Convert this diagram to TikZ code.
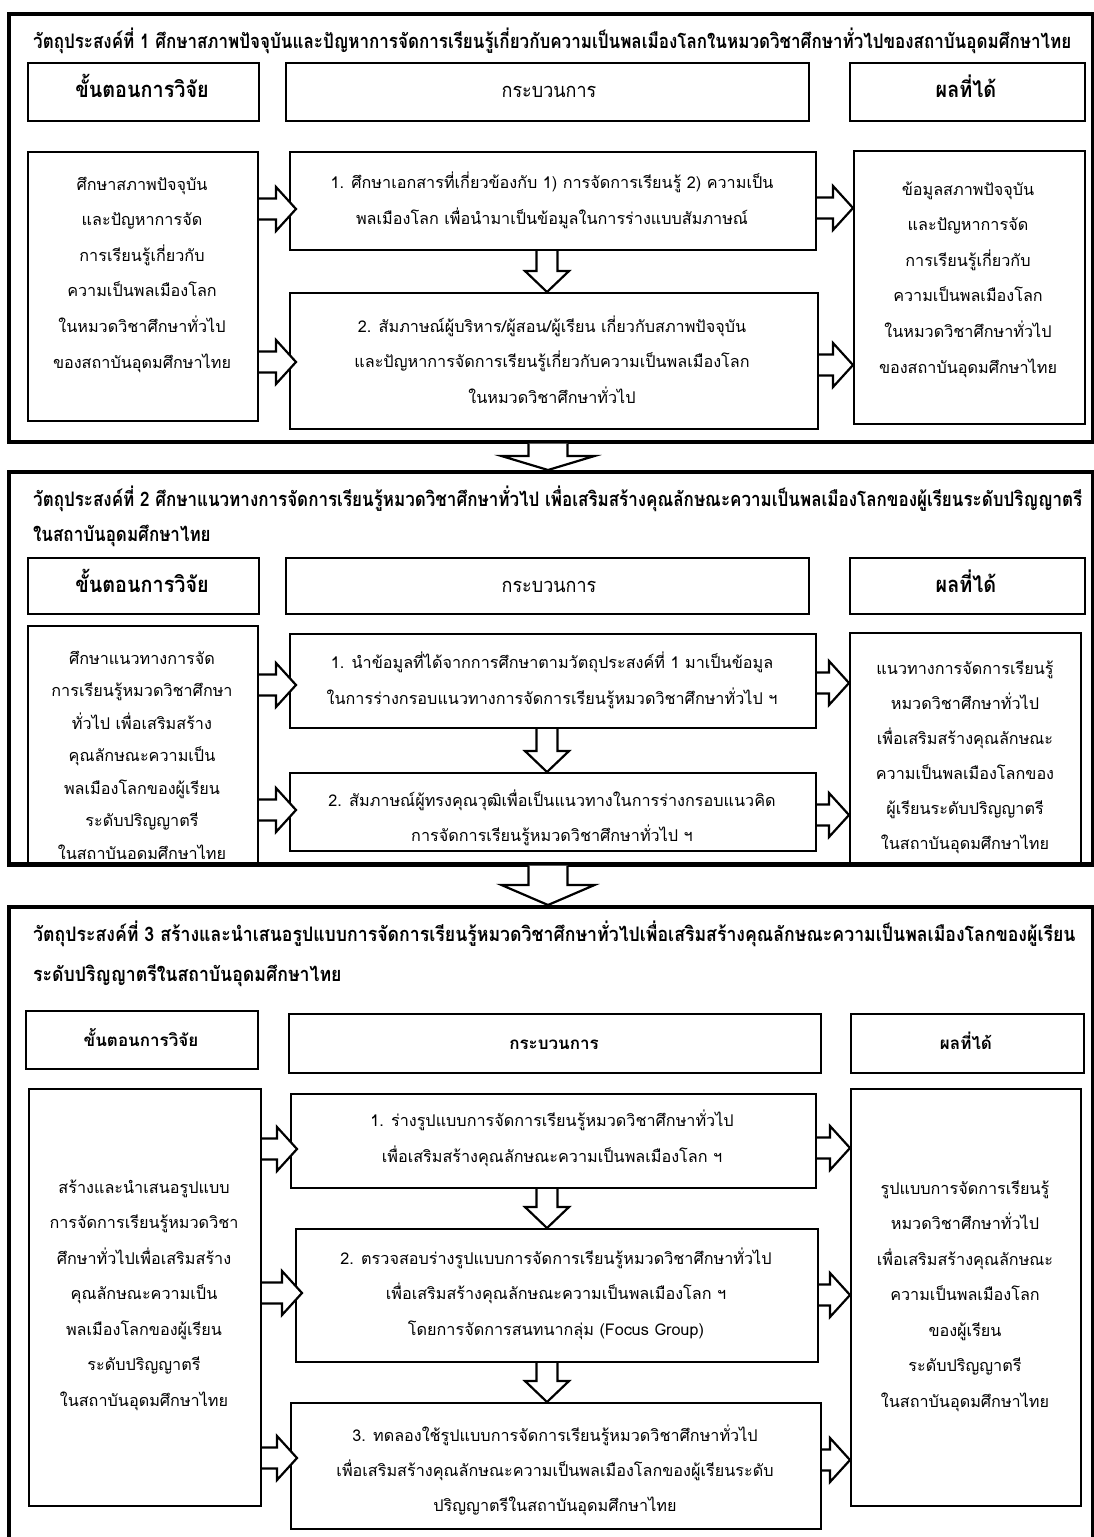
\documentclass[tikz,border=0pt]{standalone}
\usepackage{fontspec}
\newfontfamily\thai[Script=Thai]{Loma}
\newfontfamily\thaic[Script=Thai,FakeStretch=0.85]{Loma}
\newfontfamily\thaicw[Script=Thai,FakeStretch=0.885]{Loma}
\newfontfamily\thaih[Script=Thai,FakeStretch=0.9]{Loma}
\usetikzlibrary{calc}
\tikzset{
  box/.style={draw, line width=2.2pt, fill=white, inner sep=0pt},
  frame/.style={draw, line width=3.5pt, inner sep=0pt},
  body/.style={font=\thai\fontsize{16.2}{18}\selectfont, inner sep=0pt, anchor=base},
  ttl/.style={font=\thaic\bfseries\fontsize{20}{22}\selectfont, inner sep=0pt, anchor=base west},
  ttlw/.style={font=\thaicw\bfseries\fontsize{20}{22}\selectfont, inner sep=0pt, anchor=base west},
  hdb/.style={font=\thaih\bfseries\fontsize{22}{24}\selectfont, inner sep=0pt, anchor=base},
  hdn/.style={font=\thaih\fontsize{20}{22}\selectfont, inner sep=0pt, anchor=base},
  hd3/.style={font=\thai\bfseries\fontsize{17}{20}\selectfont, inner sep=0pt, anchor=base},
  blk/.style={draw, line width=2.2pt, fill=white, line join=miter}
}
% rectangle node: name, x1, y1, x2, y2
\newcommand\bx[6][box]{\node[#1, minimum width={#5-#3}, minimum height={#6-#4}, anchor=north west] (#2) at (#3,#4) {};}
% lines of text: name, x, first baseline, step, list
\newcommand\tl[5]{\foreach \t [count=\i] in {#5}{\node[body] (#1-\i) at (#2,{#3+(\i-1)*#4}) {\t};}}
% horizontal block arrow: from, to, y, tip overlap
\newcommand\harr[4]{\draw[blk] let \p1=(#1.east), \p2=(#2.west), \p3=(0,#3) in
  (\x1,{\y3+10.5pt}) -- ({\x2+#4pt-20pt},{\y3+10.5pt}) -- ({\x2+#4pt-20pt},{\y3+22pt}) -- ({\x2+#4pt},\y3)
  -- ({\x2+#4pt-20pt},{\y3-22pt}) -- ({\x2+#4pt-20pt},{\y3-10.5pt}) -- (\x1,{\y3-10.5pt});}
% vertical block arrow: from, to, x, shaft half, head half, head length
\newcommand\varr[6]{\draw[blk] let \p1=(#1.south), \p2=(#2.north), \p3=(#3,0) in
  ({\x3-#4pt},\y1) -- ({\x3-#4pt},{\y2+#6pt}) -- ({\x3-#5pt},{\y2+#6pt}) -- (\x3,\y2)
  -- ({\x3+#5pt},{\y2+#6pt}) -- ({\x3+#4pt},{\y2+#6pt}) -- ({\x3+#4pt},\y1);}
\begin{document}
\begin{tikzpicture}[x=1pt,y=-1pt]
\path[use as bounding box, clip] (0,0) rectangle (1094,1537);
\fill[white] (0,0) rectangle (1094,1537);

%%%%%%%%%%%% Section 1
\bx[frame]{f1}{7}{12}{1091}{440}
\node[ttl] (t1) at (33,48) {วัตถุประสงค์ที่ 1 ศึกษาสภาพปัจจุบันและปัญหาการจัดการเรียนรู้เกี่ยวกับความเป็นพลเมืองโลกในหมวดวิชาศึกษาทั่วไปของสถาบันอุดมศึกษาไทย};
\bx{h1L}{27}{62}{258}{120}
\bx{h1M}{285}{62}{808}{120}
\bx{h1R}{849}{62}{1084}{120}
\node[hdb] (h1Lt) at (142,97) {ขั้นตอนการวิจัย};
\node[hdn] (h1Mt) at (549,97) {กระบวนการ};
\node[hdb] (h1Rt) at (966,97) {ผลที่ได้};
\bx{c1L}{27}{151}{257}{420}
\bx{p1a}{289}{151}{815}{249}
\bx{p1b}{289}{292}{817}{428}
\bx{c1R}{853}{150}{1084}{423}
\tl{c1Lt}{142}{190}{35.6}{ศึกษาสภาพปัจจุบัน,และปัญหาการจัด,การเรียนรู้เกี่ยวกับ,ความเป็นพลเมืองโลก,ในหมวดวิชาศึกษาทั่วไป,ของสถาบันอุดมศึกษาไทย}
\tl{p1at}{552}{188}{36}{1. ศึกษาเอกสารที่เกี่ยวข้องกับ 1) การจัดการเรียนรู้ 2) ความเป็น,พลเมืองโลก เพื่อนำมาเป็นข้อมูลในการร่างแบบสัมภาษณ์}
\tl{p1bt}{552}{332}{35.5}{2. สัมภาษณ์ผู้บริหาร/ผู้สอน/ผู้เรียน เกี่ยวกับสภาพปัจจุบัน,และปัญหาการจัดการเรียนรู้เกี่ยวกับความเป็นพลเมืองโลก,ในหมวดวิชาศึกษาทั่วไป}
\tl{c1Rt}{968}{195}{35.6}{ข้อมูลสภาพปัจจุบัน,และปัญหาการจัด,การเรียนรู้เกี่ยวกับ,ความเป็นพลเมืองโลก,ในหมวดวิชาศึกษาทั่วไป,ของสถาบันอุดมศึกษาไทย}
\harr{c1L}{p1a}{209}{7}
\harr{c1L}{p1b}{362}{7}
\harr{p1a}{c1R}{208}{0}
\harr{p1b}{c1R}{365}{0}
\varr{p1a}{p1b}{547}{10.5}{22}{21}

%%%%%%%%%%%% Section 2
\bx[frame]{f2}{7}{470}{1091}{862}
\node[ttl] (t2a) at (33,506) {วัตถุประสงค์ที่ 2 ศึกษาแนวทางการจัดการเรียนรู้หมวดวิชาศึกษาทั่วไป เพื่อเสริมสร้างคุณลักษณะความเป็นพลเมืองโลกของผู้เรียนระดับปริญญาตรี};
\node[ttl] (t2b) at (33,541) {ในสถาบันอุดมศึกษาไทย};
\bx{h2L}{27}{557}{258}{613}
\bx{h2M}{285}{557}{808}{613}
\bx{h2R}{849}{557}{1084}{613}
\node[hdb] (h2Lt) at (142,592) {ขั้นตอนการวิจัย};
\node[hdn] (h2Mt) at (549,592) {กระบวนการ};
\node[hdb] (h2Rt) at (966,592) {ผลที่ได้};
\bx{c2L}{27}{625}{257}{862}
\bx{p2a}{289}{633}{815}{727}
\bx{p2b}{289}{772}{815}{850}
\bx{c2R}{849}{632}{1080}{862}
\tl{c2Lt}{142}{664}{32.5}{ศึกษาแนวทางการจัด,การเรียนรู้หมวดวิชาศึกษา,ทั่วไป เพื่อเสริมสร้าง,คุณลักษณะความเป็น,พลเมืองโลกของผู้เรียน,ระดับปริญญาตรี,ในสถาบันอดมศึกษาไทย}
\tl{p2at}{552}{668}{36}{1. นำข้อมูลที่ได้จากการศึกษาตามวัตถุประสงค์ที่ 1 มาเป็นข้อมูล,ในการร่างกรอบแนวทางการจัดการเรียนรู้หมวดวิชาศึกษาทั่วไป ฯ}
\tl{p2bt}{552}{806}{35}{2. สัมภาษณ์ผู้ทรงคุณวุฒิเพื่อเป็นแนวทางในการร่างกรอบแนวคิด,การจัดการเรียนรู้หมวดวิชาศึกษาทั่วไป ฯ}
\tl{c2Rt}{965}{674}{35}{แนวทางการจัดการเรียนรู้,หมวดวิชาศึกษาทั่วไป,เพื่อเสริมสร้างคุณลักษณะ,ความเป็นพลเมืองโลกของ,ผู้เรียนระดับปริญญาตรี,ในสถาบันอุดมศึกษาไทย}
\harr{c2L}{p2a}{685}{7}
\harr{c2L}{p2b}{810}{7}
\harr{p2a}{c2R}{683}{0}
\harr{p2b}{c2R}{815}{0}
\varr{p2a}{p2b}{547}{10.5}{22}{21}
\draw[frame] (f2.south west) -- (f2.south east);

%%%%%%%%%%%% Section 3
\bx[frame]{f3}{7}{905}{1091}{1600}
\node[ttlw] (t3a) at (33,941) {วัตถุประสงค์ที่ 3 สร้างและนำเสนอรูปแบบการจัดการเรียนรู้หมวดวิชาศึกษาทั่วไปเพื่อเสริมสร้างคุณลักษณะความเป็นพลเมืองโลกของผู้เรียน};
\node[ttlw] (t3b) at (33,981) {ระดับปริญญาตรีในสถาบันอุดมศึกษาไทย};
\bx{h3L}{25}{1010}{257}{1068}
\bx{h3M}{288}{1013}{820}{1072}
\bx{h3R}{850}{1013}{1083}{1072}
\node[hd3] (h3Lt) at (141,1046) {ขั้นตอนการวิจัย};
\node[hd3] (h3Mt) at (554,1049) {กระบวนการ};
\node[hd3] (h3Rt) at (966,1049) {ผลที่ได้};
\bx{c3L}{28}{1088}{260}{1505}
\bx{p3a}{290}{1093}{815}{1187}
\bx{p3b}{295}{1228}{817}{1361}
\bx{p3c}{290}{1402}{820}{1528}
\bx{c3R}{850}{1088}{1080}{1505}
\tl{c3Lt}{144}{1193}{35.5}{สร้างและนำเสนอรูปแบบ,การจัดการเรียนรู้หมวดวิชา,ศึกษาทั่วไปเพื่อเสริมสร้าง,คุณลักษณะความเป็น,พลเมืองโลกของผู้เรียน,ระดับปริญญาตรี,ในสถาบันอุดมศึกษาไทย}
\tl{p3at}{552}{1126}{36}{1. ร่างรูปแบบการจัดการเรียนรู้หมวดวิชาศึกษาทั่วไป,เพื่อเสริมสร้างคุณลักษณะความเป็นพลเมืองโลก ฯ}
\tl{p3bt}{556}{1264}{35.5}{2. ตรวจสอบร่างรูปแบบการจัดการเรียนรู้หมวดวิชาศึกษาทั่วไป,เพื่อเสริมสร้างคุณลักษณะความเป็นพลเมืองโลก ฯ,โดยการจัดการสนทนากลุ่ม (Focus Group)}
\tl{p3ct}{555}{1441}{35}{3. ทดลองใช้รูปแบบการจัดการเรียนรู้หมวดวิชาศึกษาทั่วไป,เพื่อเสริมสร้างคุณลักษณะความเป็นพลเมืองโลกของผู้เรียนระดับ,ปริญญาตรีในสถาบันอุดมศึกษาไทย}
\tl{c3Rt}{965}{1194}{35.5}{รูปแบบการจัดการเรียนรู้,หมวดวิชาศึกษาทั่วไป,เพื่อเสริมสร้างคุณลักษณะ,ความเป็นพลเมืองโลก,ของผู้เรียน,ระดับปริญญาตรี,ในสถาบันอุดมศึกษาไทย}
\harr{c3L}{p3a}{1149}{7}
\harr{c3L}{p3b}{1293}{7}
\harr{c3L}{p3c}{1458}{7}
\harr{p3a}{c3R}{1148}{0}
\harr{p3b}{c3R}{1295}{0}
\harr{p3c}{c3R}{1460}{0}
\varr{p3a}{p3b}{547}{10.5}{22}{21}
\varr{p3b}{p3c}{547}{10.5}{22}{21}

%%%%%%%%%%%% arrows between sections
\varr{f1}{f2}{548}{19.5}{46.5}{14}
\varr{f2}{f3}{548}{19.5}{46.5}{20}
\end{tikzpicture}
\end{document}
